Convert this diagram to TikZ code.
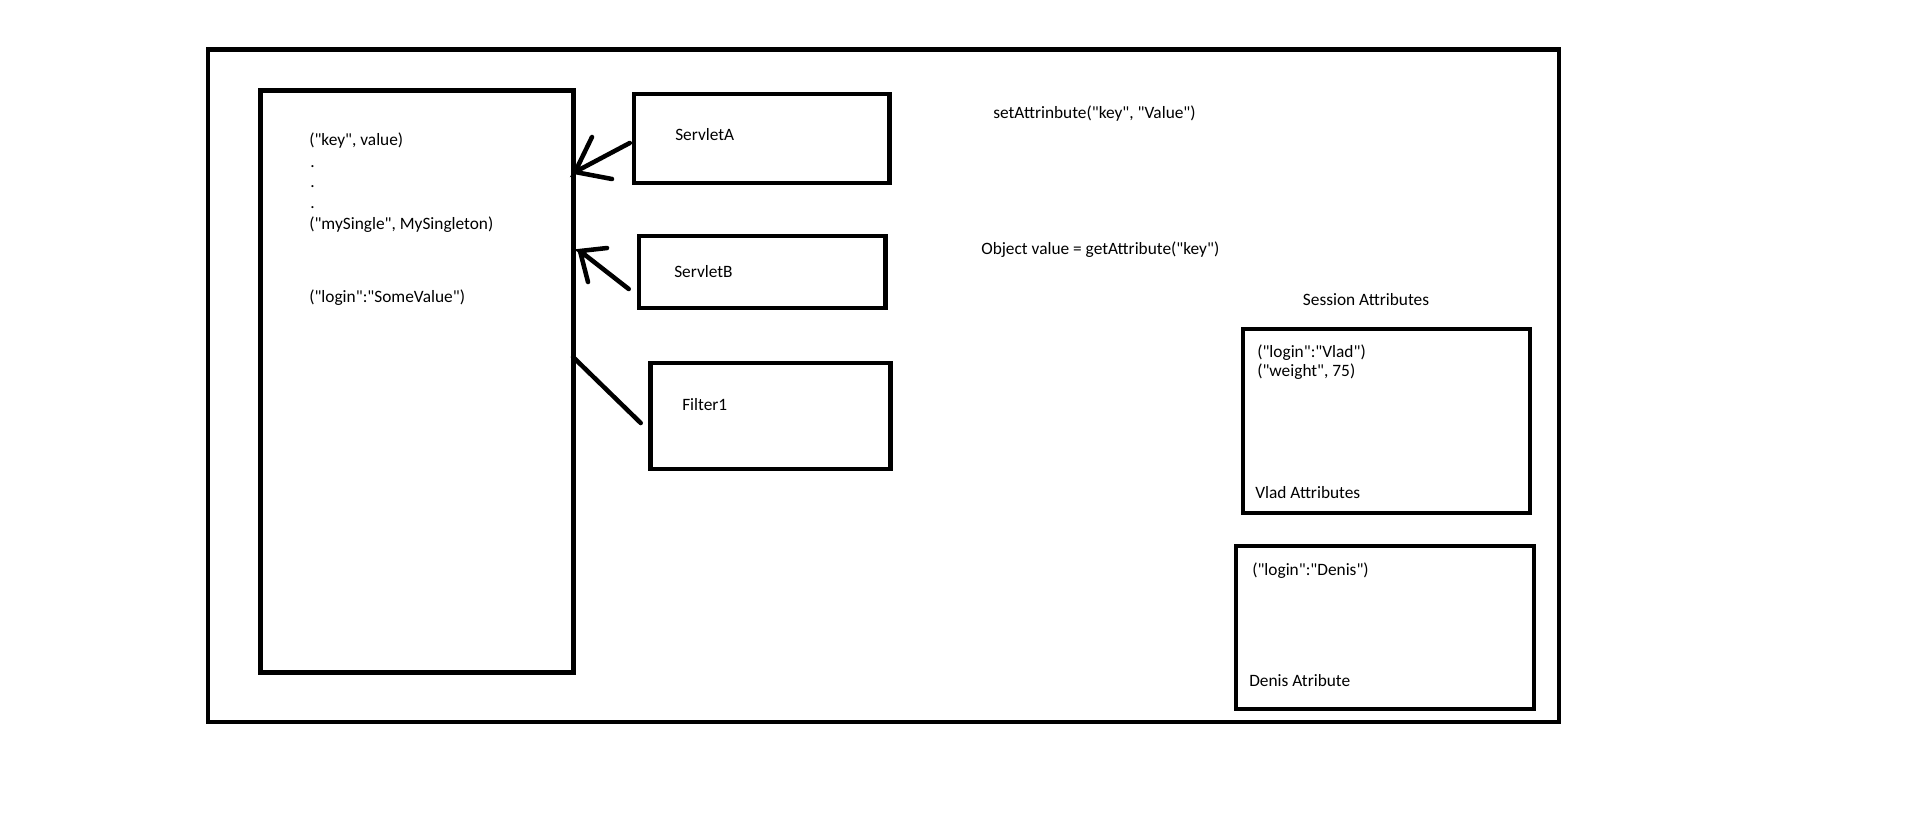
\documentclass[tikz,border=0pt]{standalone}
\usepackage{fontspec}
\setmainfont{Carlito}[Ligatures=TeXOff]
\usetikzlibrary{fit,calc}
\begin{document}
\begin{tikzpicture}[x=0.75pt,y=-0.75pt,
  frame/.style={draw,line width=3.7pt,inner sep=0pt},
  box/.style={draw,line width=3.4pt,inner sep=0pt},
  txt/.style={anchor=west,inner sep=0pt,font=\fontsize{13}{15}\selectfont},
  dotstyle/.style={anchor=base west,inner sep=0pt,font=\fontsize{13}{15}\selectfont},
  conn/.style={line width=3.4pt,line cap=round,line join=miter}]
\useasboundingbox (0,0) rectangle (1905,828);
% boxes
\node[frame,fit={(208,49.5)(1559,722)}] (outer) {};
\node[box,fit={(260.5,90.5)(573.5,672.5)}] (store) {};
\node[box,fit={(634,94)(889.5,183)}] (servA) {};
\node[box,fit={(639,236)(885.5,308)}] (servB) {};
\node[box,fit={(650.5,363)(890.5,469)}] (filt) {};
\node[box,fit={(1243,329)(1530,513)}] (vlad) {};
\node[box,fit={(1236,546)(1534,709)}] (denis) {};
% texts in store
\node[txt] (kv) at (309,141) {("key", value)};
\node[dotstyle] (d1) at (310,167) {.};
\node[dotstyle] (d2) at (310,187) {.};
\node[dotstyle] (d3) at (310,208) {.};
\node[txt] (ms) at (309,225) {("mySingle", MySingleton)};
\node[txt] (lg) at (309,298) {("login":"SomeValue")};
% box labels
\node[txt] (la) at (675,135) {ServletA};
\node[txt] (lb) at (674,272) {ServletB};
\node[txt] (lf) at (682,405) {Filter1};
% free texts
\node[txt] (set) at (993,114) {setAttrinbute("key", "Value")};
\node[txt] (get) at (981,250) {Object value = getAttribute("key")};
\node[txt,anchor=center] (sess) at (1366,300) {Session Attributes};
% session boxes
\node[txt] (v1) at (1257,353) {("login":"Vlad")};
\node[txt] (v2) at (1257,372) {("weight", 75)};
\node[txt] (v3) at (1255,493) {Vlad Attributes};
\node[txt] (n1) at (1252,571) {("login":"Denis")};
\node[txt] (n2) at (1249,681) {Denis Atribute};
% connectors
\coordinate (hA) at (575,172);
\coordinate (hB) at (580,251);
\coordinate (hF) at (573,357);
\draw[conn] ($(servA.west)+(-2,4.5)$) -- (hA) -- +(17,-35) (hA) -- +(37,7);
\draw[conn] ($(servB.west)+(-8,17)$) -- (hB) -- +(27,-3) (hB) -- +(8,31);
\draw[conn] ($(filt.west)+(-7.5,7)$) -- (hF);
\end{tikzpicture}
\end{document}
